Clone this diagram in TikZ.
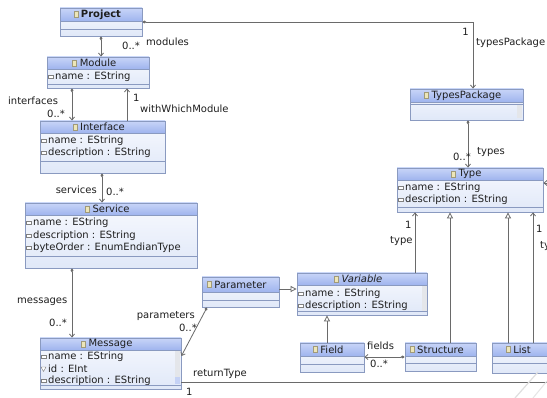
\documentclass[tikz,border=0pt]{standalone}
\usepackage{fontspec}
\setmainfont{DejaVu Sans}
\usetikzlibrary{arrows.meta,fit}

\definecolor{headtop}{HTML}{C8D5F8}
\definecolor{headbot}{HTML}{9FB4EE}
\definecolor{bodytop}{HTML}{F7F9FE}
\definecolor{bodybot}{HTML}{E0E8F8}
\definecolor{boxline}{HTML}{8A9AC0}
\definecolor{wire}{HTML}{6A6A6A}
\definecolor{ink}{HTML}{1E1E1E}
\definecolor{iconfill}{HTML}{EDE6B8}
\definecolor{iconline}{HTML}{A09A7A}
\definecolor{scroll}{HTML}{E4E6EA}

\tikzset{
  classframe/.style={draw=boxline, line width=0.8pt, inner sep=0pt},
  sepline/.style={draw=boxline, line width=0.6pt},
  titletext/.style={font=\fontsize{10}{12}\selectfont, text=ink, inner sep=0pt},
  attrtext/.style={font=\fontsize{10}{12}\selectfont, text=ink, inner sep=0pt, anchor=west},
  lbl/.style={font=\fontsize{10}{12}\selectfont, text=ink, inner sep=0pt},
  wireline/.style={draw=wire, line width=0.8pt},
  contain/.style={wireline, {Diamond[length=4pt,width=3pt]}-{Straight Barb[length=3pt,width=5pt]}},
  refer/.style={wireline, -{Straight Barb[length=3pt,width=5pt]}},
  inherit/.style={wireline, -{Triangle[open, length=6pt, width=6pt, fill=white]}},
}

% class box: name, x1, y1, x2, y2, bottom of header, title
\newcommand{\classbox}[7]{%
  \shade[top color=bodytop, bottom color=bodybot] (#2,#3) rectangle (#4,#5);
  \shade[top color=headtop, bottom color=headbot] (#2,#3) rectangle (#4,#6);
  \draw[sepline] (#2,#6) -- (#4,#6);
  \node[classframe, fit={(#2,#3) (#4,#5)}] (#1) {};
  \node[titletext] (#1-title) at ({(#2+#4)/2}, {(#3+#6)/2}) {#7};
  \draw[iconline, fill=iconfill, line width=0.4pt]
    ([xshift=-7pt,yshift=3pt]#1-title.west) rectangle ([xshift=-3pt,yshift=-3pt]#1-title.west);
}
% attribute line: name, x, y, text
\newcommand{\attrline}[4]{%
  \node[attrtext] (#1) at ({#2+8}, #3) {#4};
  \draw[gray, fill=white, line width=0.4pt]
    ([xshift=-7pt,yshift=1.5pt]#1.west) rectangle ([xshift=-2pt,yshift=-1.5pt]#1.west);
}
\newcommand{\idline}[4]{%
  \node[attrtext] (#1) at ({#2+8}, #3) {#4};
  \draw[gray, fill=white, line width=0.4pt]
    ([xshift=-7pt,yshift=2pt]#1.west) -- ([xshift=-2pt,yshift=2pt]#1.west)
    -- ([xshift=-4.5pt,yshift=-2.5pt]#1.west) -- cycle;
}

\begin{document}
\begin{tikzpicture}[x=1pt, y=-1pt]
\clip (0,0) rectangle (547,398);
\fill[white] (0,0) rectangle (547,398);

% ---------- classes ----------
\classbox{project}{60}{8}{142}{36}{21}{\bfseries Project}
\draw[sepline] (60,29) -- (142,29);

\classbox{module}{47}{57}{149}{88}{69}{Module}
\attrline{module-name}{47}{77}{name : EString}
\draw[sepline] (47,84) -- (149,84);

\classbox{interface}{40}{121}{165}{173}{133}{Interface}
\attrline{interface-name}{40}{141}{name : EString}
\attrline{interface-desc}{40}{153}{description : EString}
\draw[sepline] (40,161) -- (165,161);

\classbox{service}{25}{203}{197}{268}{215}{Service}
\attrline{service-name}{25}{223}{name : EString}
\attrline{service-desc}{25}{236}{description : EString}
\attrline{service-order}{25}{248}{byteOrder : EnumEndianType}
\draw[sepline] (25,256) -- (197,256);

\classbox{message}{40}{338}{181}{389}{350}{Message}
\fill[scroll] (175,351) rectangle (180,384);
\fill[headbot!60] (175,377) rectangle (180,384);
\attrline{message-name}{40}{357}{name : EString}
\idline{message-id}{40}{369}{id : EInt}
\begin{scope}
  \clip (40,374) rectangle (175,385);
  \attrline{message-desc}{40}{381}{description : EString}
\end{scope}
\draw[sepline] (40,385) -- (181,385);

\classbox{parameter}{202}{277}{279}{307}{292}{Parameter}
\draw[sepline] (202,300) -- (279,300);

\classbox{variable}{297}{273}{427}{315}{285}{\itshape Variable}
\fill[scroll] (422,286) rectangle (427,311);
\attrline{variable-name}{297}{294}{name : EString}
\begin{scope}
  \clip (297,299) rectangle (422,311);
  \attrline{variable-desc}{297}{306}{description : EString}
\end{scope}
\draw[sepline] (297,311) -- (427,311);

\classbox{field}{300}{343}{364}{372}{356}{Field}
\draw[sepline] (300,364) -- (364,364);

\classbox{structure}{405}{343}{476}{371}{356}{Structure}
\draw[sepline] (405,363) -- (476,363);

\classbox{list}{492}{343}{552}{373}{356}{List}
\draw[sepline] (492,363) -- (552,363);

\classbox{type}{397}{168}{543}{212}{180}{Type}
\attrline{type-name}{397}{188}{name : EString}
\attrline{type-desc}{397}{200}{description : EString}
\draw[sepline] (397,207) -- (543,207);

\classbox{typespkg}{410}{89}{523}{120}{102}{TypesPackage}
\fill[scroll] (517,104) rectangle (522,118);
\draw[sepline] (410,104) -- (523,104);

% ---------- connectors ----------
\draw[contain] (project.south -| 101,0) -- (module.north -| 101,0);
\draw[contain] (module.south -| 72,0) -- (interface.north -| 72,0);
\draw[refer] (interface.north -| 127,0) -- (module.south -| 127,0);
\draw[contain] (interface.south -| 102,0) -- (service.north -| 102,0);
\draw[contain] (service.south -| 72,0) -- (message.north -| 72,0);
\draw[contain] (parameter.south -| 207,0) -- (message.east |- 0,356);
\draw[inherit] (parameter.east |- 0,289) -- (variable.west |- 0,289);
\draw[inherit] (field.north -| 327,0) -- (variable.south -| 327,0);
\draw[contain] (structure.west |- 0,357) -- (field.east |- 0,357);
\draw[refer] (variable.north -| 415,0) -- (type.south -| 415,0);
\draw[inherit] (structure.north -| 450,0) -- (type.south -| 450,0);
\draw[inherit] (list.north -| 508,0) -- (type.south -| 508,0);
\draw[refer] (list.north -| 533,0) -- (type.south -| 533,0);
\draw[contain] (project.east |- 0,22) -| (typespkg.north -| 473,0);
\draw[contain] (typespkg.south -| 468,0) -- (type.north -| 468,0);
\coordinate (typestub) at (556,183);
\draw[refer] (typestub) -- (type.east |- 0,183);
\coordinate (rtend) at (556,382);
\draw[wireline] (message.east |- 0,382) -- (rtend);

% ---------- labels ----------
\node[lbl, anchor=west] (l-mod0) at (122,46) {0..*};
\node[lbl, anchor=west] (l-mod) at (146,42) {modules};
\node[lbl, anchor=west] (l-int) at (8,101) {interfaces};
\node[lbl, anchor=west] (l-int0) at (47,114) {0..*};
\node[lbl, anchor=west] (l-wwm1) at (133,98) {1};
\node[lbl, anchor=west] (l-wwm) at (140,109) {withWhichModule};
\node[lbl, anchor=east] (l-srv) at (97,190) {services};
\node[lbl, anchor=west] (l-srv0) at (106,192) {0..*};
\node[lbl, anchor=west] (l-msg) at (17,302) {messages};
\node[lbl, anchor=west] (l-msg0) at (49,323) {0..*};
\node[lbl, anchor=east] (l-par) at (195,316) {parameters};
\node[lbl, anchor=east] (l-par0) at (197,328) {0..*};
\node[lbl, anchor=west] (l-ret) at (193,374) {returnType};
\node[lbl, anchor=west] (l-ret1) at (186,392) {1};
\node[lbl, anchor=west] (l-fld) at (367,346) {fields};
\node[lbl, anchor=west] (l-fld0) at (370,364) {0..*};
\node[lbl, anchor=east] (l-tp1) at (469,32) {1};
\node[lbl, anchor=west] (l-tp) at (476,43) {typesPackage};
\node[lbl, anchor=east] (l-ty0) at (471,157) {0..*};
\node[lbl, anchor=west] (l-ty) at (477,152) {types};
\node[lbl, anchor=west] (l-vt1) at (405,225) {1};
\node[lbl, anchor=west] (l-vt) at (390,241) {type};
\node[lbl, anchor=west] (l-lt1) at (536,229) {1};
\node[lbl, anchor=west] (l-lt) at (540,246) {type};

% faint fold marks in the lower right corner
\draw[gray!25, line width=1.2pt] (538,372) -- (515,398);
\draw[gray!20, line width=1pt] (547,381) -- (533,398);
\end{tikzpicture}
\end{document}
